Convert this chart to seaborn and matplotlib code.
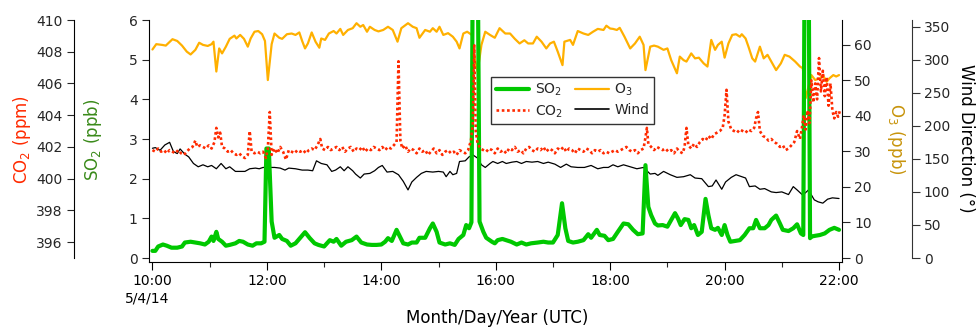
import numpy as np
import pandas as pd
import matplotlib
matplotlib.use("Agg")
import matplotlib.pyplot as plt
import seaborn as sns
from matplotlib.lines import Line2D

# ---------------- data (minutes after 10:00 UTC, 5/4/14) ----------------
o3_min = [0, 4, 10, 14, 21, 26, 31, 36, 40, 45, 49, 53, 58, 62, 64, 67, 70, 73, 77, 81,
          86, 88, 92, 96, 100, 103, 107, 111, 115, 118, 121, 125, 128, 133, 136, 141, 146, 150, 154, 157,
          160, 163, 167, 171, 175, 177, 181, 185, 190, 193, 197, 200, 205, 210, 214, 218, 221, 225, 228, 233,
          237, 242, 247, 252, 257, 261, 268, 273, 277, 280, 286, 291, 294, 298, 301, 305, 310, 315, 319, 322,
          326, 330, 335, 338, 341, 345, 349, 354, 359, 364, 370, 375, 380, 385, 390, 394, 399, 403, 408, 413,
          417, 421, 425, 430, 432, 438, 441, 446, 452, 457, 462, 467, 473, 476, 480, 483, 487, 490, 495, 501,
          506, 511, 515, 517, 522, 526, 530, 536, 540, 544, 550, 553, 557, 560, 563, 565, 569, 573, 578, 582,
          586, 590, 593, 597, 600, 604, 608, 612, 616, 618, 622, 625, 629, 632, 637, 641, 645, 649, 654, 659,
          663, 668, 674, 679, 682, 685, 691, 695, 700, 703, 707, 710, 714, 717, 720]
o3_ppb = [58.7, 60.2, 60.0, 59.8, 61.6, 61.1, 59.8, 58.1, 57.3, 58.6, 60.6, 60.0, 59.7, 60.2, 60.9, 52.5, 59.0, 57.6, 59.5, 61.7,
          62.6, 61.8, 62.8, 61.7, 59.5, 61.8, 63.7, 63.9, 63.0, 61.1, 50.1, 60.2, 63.2, 62.0, 61.7, 63.0, 63.2, 62.8, 63.5, 61.1,
          59.0, 60.4, 63.5, 60.9, 59.2, 61.8, 61.4, 63.2, 63.9, 63.2, 64.5, 62.8, 64.2, 64.7, 66.1, 65.1, 65.6, 63.7, 65.1, 64.2,
          63.8, 64.2, 65.1, 64.2, 60.9, 64.7, 66.1, 65.1, 64.7, 62.0, 64.2, 63.7, 64.7, 63.7, 65.1, 62.8, 63.3, 62.3, 60.9, 59.0,
          63.2, 63.7, 62.8, 56.0, 52.5, 60.0, 63.7, 62.8, 62.0, 64.7, 63.2, 63.2, 61.7, 60.4, 61.3, 60.4, 60.4, 62.3, 60.9, 59.0,
          60.4, 60.9, 58.1, 54.3, 60.9, 61.4, 60.0, 63.9, 63.2, 62.8, 63.7, 64.5, 64.2, 65.4, 64.6, 64.5, 64.2, 64.8, 62.3, 59.0,
          60.4, 62.3, 60.0, 52.9, 59.5, 59.8, 59.5, 58.6, 59.0, 55.7, 52.0, 56.7, 55.7, 55.3, 56.7, 57.6, 56.2, 56.4, 54.8, 53.9,
          61.4, 58.6, 60.0, 60.9, 56.4, 60.4, 62.8, 63.0, 62.3, 63.0, 61.8, 59.5, 56.2, 55.3, 59.5, 56.2, 57.2, 55.3, 52.9, 54.8,
          57.2, 56.7, 55.3, 53.9, 53.4, 45.0, 51.5, 50.1, 50.6, 51.5, 49.6, 50.6, 51.5, 51.1, 51.5]

so2_min = [0, 3, 6, 11, 15, 20, 26, 31, 34, 40, 45, 50, 55, 59, 62, 64, 67, 69, 73, 77,
           81, 87, 91, 95, 100, 105, 109, 114, 117.5, 119.5, 122, 125, 128, 133, 136, 141, 145, 150, 155, 160,
           165, 170, 174, 180, 186, 190, 193, 198, 203, 209, 214, 219, 225, 230, 235, 240, 244, 247, 251, 256,
           259.5, 263, 268, 272, 277, 280, 286, 291, 294, 298, 301, 307, 312, 317, 321, 326, 329, 332, 334.5, 336,
           341, 343, 347, 350, 356, 359, 362, 367, 371, 376, 382, 387, 392, 397, 404, 410, 415, 420, 425, 429.5,
           433, 436, 441, 446, 452, 457, 460, 466, 469, 474, 478, 483, 488, 494, 499, 504, 509, 514, 517, 520,
           523, 527, 530, 535, 540, 544, 548, 551, 554, 558, 562, 565, 568, 572, 576, 580, 583, 586, 590, 593,
           597, 600, 603, 606, 611, 616, 621, 626, 630, 633, 637, 642, 646, 649, 654, 658, 661, 667, 672, 676,
           680, 682.5, 684, 688, 689.6, 691, 695, 700, 705, 710, 715, 720]
so2_ppb = [0.18, 0.18, 0.29, 0.34, 0.31, 0.26, 0.26, 0.29, 0.39, 0.41, 0.39, 0.37, 0.34, 0.41, 0.54, 0.43, 0.66, 0.48, 0.41, 0.31,
           0.33, 0.37, 0.43, 0.41, 0.34, 0.31, 0.37, 0.37, 0.41, 2.76, 2.76, 0.92, 0.51, 0.58, 0.48, 0.43, 0.31, 0.37, 0.51, 0.65,
           0.50, 0.37, 0.33, 0.29, 0.45, 0.41, 0.48, 0.31, 0.41, 0.45, 0.54, 0.39, 0.34, 0.33, 0.33, 0.34, 0.41, 0.50, 0.43, 0.71,
           0.54, 0.37, 0.34, 0.39, 0.39, 0.51, 0.51, 0.75, 0.87, 0.66, 0.39, 0.34, 0.37, 0.33, 0.48, 0.58, 0.83, 0.75, 0.90, 8.0,
           8.0, 0.92, 0.66, 0.51, 0.41, 0.37, 0.45, 0.48, 0.45, 0.41, 0.34, 0.39, 0.34, 0.37, 0.39, 0.41, 0.39, 0.39, 0.58, 1.38,
           0.75, 0.43, 0.39, 0.41, 0.45, 0.60, 0.51, 0.71, 0.58, 0.56, 0.45, 0.48, 0.66, 0.87, 0.85, 0.71, 0.60, 0.62, 2.34, 1.29,
           1.08, 0.87, 0.82, 0.83, 0.79, 0.96, 1.13, 1.00, 0.83, 0.98, 0.96, 0.75, 0.83, 0.58, 0.66, 1.49, 1.08, 0.75, 0.71, 0.76,
           0.58, 0.83, 0.58, 0.41, 0.43, 0.45, 0.58, 0.75, 0.75, 0.96, 0.75, 0.75, 0.83, 0.96, 1.07, 0.87, 0.71, 0.68, 0.75, 0.85,
           0.62, 0.58, 8.0, 8.0, 0.50, 0.54, 0.56, 0.58, 0.62, 0.71, 0.76, 0.71]

co2_min = [0, 3, 6, 9, 12, 15, 18, 21, 24, 27, 30, 33, 36, 39, 42, 45, 47, 50, 53, 56,
           59, 62, 65, 67, 69, 71, 73, 76, 79, 82, 85, 88, 91, 94, 97, 100, 102, 104, 107, 110,
           113, 116, 119, 121, 123, 125, 128, 131, 134, 137, 140, 143, 146, 149, 152, 155, 158, 161, 164, 167,
           170, 173, 176, 178, 181, 184, 187, 190, 193, 196, 199, 202, 205, 208, 211, 214, 217, 220, 223, 226,
           229, 232, 235, 238, 241, 244, 247, 250, 253, 256, 258, 260, 262, 265, 268, 271, 274, 277, 280, 283,
           286, 289, 292, 295, 298, 301, 304, 307, 310, 313, 316, 319, 322, 325, 328, 331, 334, 336, 337.5, 339,
           341, 344, 347, 350, 353, 356, 359, 362, 365, 368, 371, 374, 377, 380, 383, 386, 389, 392, 395, 398,
           401, 404, 407, 410, 413, 416, 419, 422, 425, 428, 431, 434, 437, 440, 443, 446, 449, 452, 455, 458,
           461, 464, 467, 470, 473, 476, 479, 482, 485, 488, 491, 494, 497, 500, 503, 506, 509, 512, 515, 517,
           518.5, 520, 523, 526, 529, 532, 535, 538, 541, 544, 547, 550, 553, 556, 558, 560, 562, 565, 568, 571,
           574, 577, 580, 583, 586, 589, 592, 595, 598, 600, 602, 604, 607, 610, 613, 616, 619, 622, 625, 628,
           631, 633, 635, 637, 640, 643, 646, 649, 652, 655, 658, 661, 664, 667, 670, 673, 676, 679, 681, 683,
           685, 687, 689, 691, 693, 695, 697, 699, 701, 703, 705, 707, 709, 711, 713, 715, 717, 719, 721]
co2_ppm = [401.8, 401.7, 401.9, 401.7, 401.8, 401.6, 401.8, 401.7, 401.6, 401.8, 401.6, 401.5, 401.7, 401.9, 402.0, 402.4, 402.0, 402.1, 402.0, 401.9,
           402.1, 401.9, 402.3, 403.2, 402.6, 402.9, 402.0, 401.9, 401.7, 401.8, 401.6, 401.5, 401.6, 401.4, 401.3, 401.5, 403.0, 401.7, 401.6, 401.7,
           401.6, 401.7, 401.3, 401.9, 404.2, 401.5, 401.9, 401.6, 402.0, 401.7, 401.2, 401.8, 401.7, 401.6, 401.8, 401.7, 401.8, 401.6, 401.8, 401.9,
           401.8, 402.1, 402.5, 401.9, 401.8, 402.0, 401.8, 401.9, 402.0, 401.8, 402.0, 401.7, 401.9, 402.0, 401.7, 401.9, 401.8, 402.0, 401.7, 401.9,
           401.8, 402.0, 401.9, 401.8, 402.0, 401.8, 402.0, 401.9, 402.1, 402.3, 407.4, 402.4, 401.9, 402.1, 401.7, 401.9, 401.8, 401.6, 401.9, 401.7,
           401.8, 401.5, 401.7, 401.9, 401.6, 401.8, 401.5, 401.7, 401.8, 401.6, 401.7, 401.5, 401.8, 401.7, 401.6, 401.8, 402.4, 403.5, 408.4, 403.0,
           402.2, 401.9, 401.8, 401.7, 401.9, 401.8, 401.6, 401.9, 401.7, 401.8, 401.6, 401.9, 401.8, 402.0, 401.7, 401.8, 401.6, 401.9, 402.0, 401.8,
           401.7, 401.9, 401.8, 402.0, 401.7, 401.9, 401.8, 401.6, 401.9, 401.8, 402.0, 401.7, 401.9, 401.8, 401.6, 401.9, 401.8, 401.7, 401.9, 401.8,
           401.6, 401.8, 401.7, 401.8, 401.6, 401.7, 401.6, 401.7, 401.8, 401.7, 401.8, 401.9, 402.0, 401.8, 401.7, 401.8, 401.6, 401.8, 401.9, 402.6,
           403.2, 402.2, 402.0, 401.8, 402.0, 401.9, 401.8, 401.9, 401.7, 401.8, 401.6, 401.9, 401.7, 401.6, 402.0, 403.2, 402.1, 401.9, 402.2, 402.0,
           402.3, 402.5, 402.4, 402.7, 402.5, 402.8, 402.9, 403.0, 403.2, 404.0, 405.6, 403.6, 403.1, 403.0, 402.9, 403.1, 403.0, 402.9, 403.1, 403.0,
           403.2, 403.8, 404.2, 403.0, 402.7, 402.6, 402.4, 402.5, 402.3, 402.2, 402.0, 402.1, 401.8, 401.9, 402.1, 402.3, 403.0, 402.5, 403.2, 404.0,
           403.1, 404.3, 403.5, 406.2, 404.8, 406.0, 405.0, 407.6, 405.5, 406.8, 405.2, 406.4, 404.6, 406.0, 404.3, 403.8, 404.2, 403.9, 404.3]

wind_min = [0, 3, 8, 13, 18, 22, 26, 29, 34, 38, 43, 48, 53, 58, 62, 67, 72, 77, 81, 87,
            97, 102, 108, 112, 116, 122, 128, 134, 139, 143, 150, 157, 163, 168, 172, 177, 183, 188, 192, 197,
            201, 205, 210, 213, 218, 222, 228, 233, 237, 241, 246, 252, 258, 263, 268, 272, 277, 282, 287, 294,
            300, 305, 308, 312, 315, 319, 322, 328, 332, 336, 341, 345, 349, 354, 357, 362, 367, 371, 377, 382,
            387, 392, 398, 404, 410, 415, 422, 428, 434, 439, 446, 453, 460, 467, 473, 478, 483, 488, 494, 501,
            508, 515, 522, 527, 530, 536, 543, 550, 557, 564, 569, 576, 583, 587, 591, 597, 601, 607, 612, 618,
            622, 626, 632, 637, 642, 649, 654, 660, 667, 672, 676, 682, 688, 694, 698, 703, 708, 713, 720]
wind_deg = [166, 167, 163, 171, 175, 161, 158, 165, 157, 153, 143, 138, 141, 138, 140, 135, 143, 135, 138, 131,
            131, 135, 136, 135, 137, 137, 137, 136, 133, 136, 135, 133, 133, 132, 147, 143, 141, 131, 133, 138,
            132, 138, 132, 127, 121, 127, 128, 132, 137, 140, 130, 131, 126, 116, 103, 115, 122, 128, 131, 130,
            131, 130, 123, 131, 126, 128, 146, 147, 153, 156, 151, 141, 137, 143, 146, 143, 146, 143, 145, 146,
            143, 146, 145, 146, 143, 145, 142, 137, 142, 138, 137, 137, 140, 135, 137, 137, 141, 138, 141, 138,
            135, 137, 127, 128, 125, 131, 126, 122, 123, 126, 121, 120, 108, 109, 118, 104, 115, 122, 126, 123,
            121, 108, 109, 104, 105, 100, 99, 100, 96, 108, 103, 95, 103, 88, 85, 83, 89, 91, 90]

xtick_min = [0, 120, 240, 360, 480, 600, 720]
xtick_labels = ["10:00", "12:00", "14:00", "16:00", "18:00", "20:00", "22:00"]
xminor_min = [60, 180, 300, 420, 540, 660]
date_label = "5/4/14"
so2_ticks = [0, 1, 2, 3, 4, 5, 6]
co2_ticks = [396, 398, 400, 402, 404, 406, 408, 410]
o3_ticks = [0, 10, 20, 30, 40, 50, 60]
wind_ticks = [0, 50, 100, 150, 200, 250, 300, 350]

# ---------------- style ----------------
sns.set_theme(style="ticks")
plt.rcParams["font.family"] = ["DejaVu Sans"]
plt.rcParams["mathtext.fontset"] = "dejavusans"

C_SO2 = "#00c800"
C_O3 = "#ffb000"
C_CO2 = "#ff2a00"
C_WIND = "#000000"
C_SO2_LAB = "#3a8a1a"
C_O3_LAB = "#c8940c"

W, H = 979, 330
fig = plt.figure(figsize=(W / 100, H / 100), dpi=100)
fig.patch.set_facecolor("white")
L, R, T, B = 149.3, 842.0, 20.0, 262.0
PX = 0.72  # points per pixel

ax = fig.add_axes([L / W, 1 - B / H, (R - L) / W, (B - T) / H])
ax_o3 = ax.twinx()
ax_wind = ax.twinx()
ax_co2 = ax.twinx()
for z, a in enumerate([ax_o3, ax_wind, ax, ax_co2]):
    a.set_zorder(z + 1)
    a.patch.set_visible(False)

df_o3 = pd.DataFrame({"t": o3_min, "v": o3_ppb})
df_so2 = pd.DataFrame({"t": so2_min, "v": so2_ppb})
df_co2 = pd.DataFrame({"t": co2_min, "v": co2_ppm})
df_wind = pd.DataFrame({"t": wind_min, "v": wind_deg})

sns.lineplot(data=df_o3, x="t", y="v", ax=ax_o3, color=C_O3, lw=1.6, estimator=None, legend=False, sort=False)
sns.lineplot(data=df_wind, x="t", y="v", ax=ax_wind, color=C_WIND, lw=0.9, estimator=None, legend=False, sort=False)
sns.lineplot(data=df_so2, x="t", y="v", ax=ax, color=C_SO2, lw=3.0, estimator=None, legend=False, sort=False)
sns.lineplot(data=df_co2, x="t", y="v", ax=ax_co2, color=C_CO2, lw=1.9, linestyle=(0, (1, 1)),
             estimator=None, legend=False, sort=False, dash_capstyle="butt")

xl = (-3.3, 723.1)
for a in [ax, ax_o3, ax_wind, ax_co2]:
    a.set_xlim(*xl)
    a.set_xlabel("")
    a.set_ylabel("")
    for s in a.spines.values():
        s.set_visible(False)
        s.set_linewidth(0.8)
        s.set_color("black")

ax.set_ylim(-4 / 39.667, 6)
ax_o3.set_ylim(-4 / 3.552, 238 / 3.552)
ax_wind.set_ylim(-4 / 0.661, 238 / 0.661)
ax_co2.set_ylim(395 - 4 / 15.87, 410)

# main (SO2) axis
ax.spines["left"].set_visible(True)
ax.spines["bottom"].set_visible(True)
ax.set_xticks(xtick_min)
ax.set_xticklabels(xtick_labels)
ax.set_xticks(xminor_min, minor=True)
ax.set_yticks(so2_ticks)
ax.tick_params(axis="x", which="major", direction="out", length=8 * PX, width=0.8, pad=4 * PX,
               labelsize=10, colors="black")
ax.tick_params(axis="x", which="minor", direction="out", length=5 * PX, width=0.8, bottom=True)
ax.tick_params(axis="y", direction="out", length=7.5 * PX, width=0.8, pad=4 * PX, labelsize=10,
               left=True, right=False, labelleft=True, labelright=False)

# O3 axis
ax_o3.spines["right"].set_visible(True)
ax_o3.set_yticks(o3_ticks)
ax_o3.tick_params(axis="y", direction="out", length=8 * PX, width=0.8, pad=4 * PX, labelsize=10,
                  right=True, left=False, labelright=True, labelleft=False)

# Wind axis
ax_wind.spines["right"].set_visible(True)
ax_wind.spines["right"].set_position(("outward", 69.7 * PX))
ax_wind.spines["right"].set_bounds(0, 360)
ax_wind.spines["right"].set_color("#333333")
ax_wind.set_yticks(wind_ticks)
ax_wind.tick_params(axis="y", direction="out", length=8 * PX, width=0.8, pad=4 * PX, labelsize=10,
                    right=True, left=False, labelright=True, labelleft=False, color="#333333")

# CO2 axis (left, offset)
ax_co2.yaxis.tick_left()
ax_co2.spines["left"].set_visible(True)
ax_co2.spines["left"].set_position(("outward", 75 * PX))
ax_co2.spines["left"].set_bounds(395, 410)
ax_co2.set_yticks(co2_ticks)
ax_co2.tick_params(axis="y", direction="out", length=7.5 * PX, width=0.8, pad=4 * PX, labelsize=10,
                   left=True, right=False, labelleft=True, labelright=False)


def ftext(px, py, s, **kw):
    fig.text(px / W, 1 - py / H, s, ha="center", va="center", **kw)


ftext(22, 140, "CO$_2$ (ppm)", rotation=90, color=C_CO2, fontsize=12)
ftext(93, 140, "SO$_2$ (ppb)", rotation=90, color=C_SO2_LAB, fontsize=12)
ftext(896, 139, "O$_3$ (ppb)", rotation=-90, color=C_O3_LAB, fontsize=12)
ftext(966, 138, "Wind Direction (°)", rotation=-90, color="black", fontsize=12)
ftext(497, 318, "Month/Day/Year (UTC)", color="black", fontsize=12)
ftext(147, 298, date_label, color="black", fontsize=10)

handles = [
    Line2D([], [], color=C_SO2, lw=3.0),
    Line2D([], [], color=C_CO2, lw=1.9, linestyle=(0, (1, 1)), dash_capstyle="butt"),
    Line2D([], [], color=C_O3, lw=1.6),
    Line2D([], [], color=C_WIND, lw=1.2),
]
labels = ["SO$_2$", "CO$_2$", "O$_3$", "Wind"]
leg = fig.legend(handles, labels, ncol=2, loc="upper left", bbox_to_anchor=(491 / W, 1 - 77 / H),
                 frameon=True, fancybox=False, edgecolor="#333333", facecolor="white", framealpha=1,
                 fontsize=10, handlelength=2.4, handletextpad=0.4, columnspacing=0.9,
                 labelspacing=0.35, borderpad=0.35, borderaxespad=0)
leg.get_frame().set_linewidth(1.0)

fig.savefig("out.png", dpi=100, facecolor="white")
